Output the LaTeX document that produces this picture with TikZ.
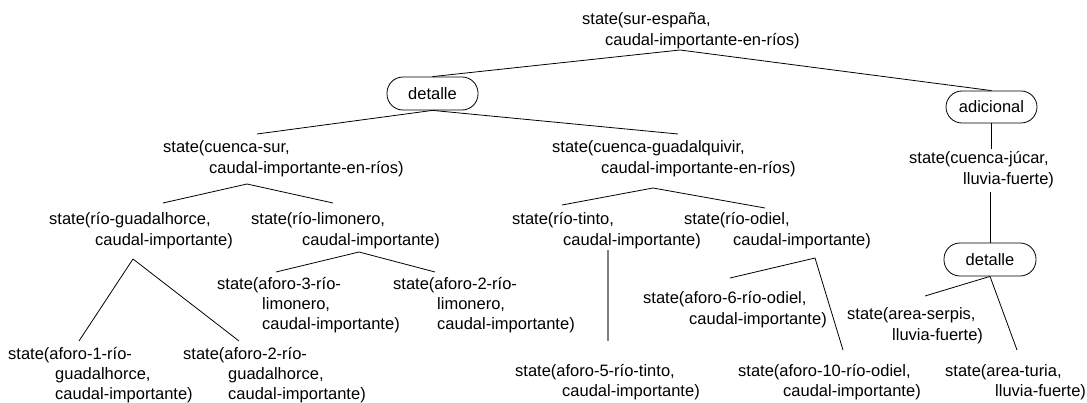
\documentclass[tikz,border=0pt]{standalone}
\usepackage{fontspec}
\setmainfont{Liberation Sans}
\newcommand\statefont{\fontsize{16.5}{21}\selectfont}
\newcommand\ind[1]{\hspace*{#1pt}}
\begin{document}
\begin{tikzpicture}[x=1pt,y=-1pt,
  st/.style={anchor=north west, inner sep=0pt, align=left, font=\statefont},
  opbox/.style={draw=black, line width=0.8pt, rounded corners=16pt, minimum width=91pt, minimum height=33pt, inner sep=0pt, font=\statefont},
  edge/.style={draw=black, line width=0.8pt},
  grayedge/.style={draw=black!50, line width=2pt}]
\useasboundingbox (0,0) rectangle (1087,403);
% state nodes
\node[st] (rt) at (582,12) {state(sur-españa,\\\ind{23}caudal-importante-en-ríos)};
\node[st] (cs) at (163,140) {state(cuenca-sur,\\\ind{46}caudal-importante-en-ríos)};
\node[st] (cg) at (552,140) {state(cuenca-guadalquivir,\\\ind{49}caudal-importante-en-ríos)};
\node[st] (cj) at (909,151) {state(cuenca-júcar,\\\ind{54}lluvia-fuerte)};
\node[st] (rg) at (49,212) {state(río-guadalhorce,\\\ind{46}caudal-importante)};
\node[st] (rl) at (251,212) {state(río-limonero,\\\ind{51}caudal-importante)};
\node[st] (rti) at (512,212) {state(río-tinto,\\\ind{51}caudal-importante)};
\node[st] (ro) at (684,212) {state(río-odiel,\\\ind{49}caudal-importante)};
\node[st,font=\fontsize{16.5}{20}\selectfont] (a3) at (217,277) {state(aforo-3-río-\\\ind{45}limonero,\\\ind{45}caudal-importante)};
\node[st,font=\fontsize{16.5}{20}\selectfont] (a2l) at (393,277) {state(aforo-2-río-\\\ind{44}limonero,\\\ind{44}caudal-importante)};
\node[st,font=\fontsize{16.5}{20}\selectfont] (a1g) at (8,347) {state(aforo-1-río-\\\ind{47}guadalhorce,\\\ind{47}caudal-importante)};
\node[st,font=\fontsize{16.5}{20}\selectfont] (a2g) at (183,347) {state(aforo-2-río-\\\ind{45}guadalhorce,\\\ind{45}caudal-importante)};
\node[st,font=\fontsize{16.5}{20}\selectfont] (a5) at (515,364) {state(aforo-5-río-tinto,\\\ind{47}caudal-importante)};
\node[st] (a6) at (643,291) {state(aforo-6-río-odiel,\\\ind{46}caudal-importante)};
\node[st,font=\fontsize{16.5}{20}\selectfont] (a10) at (738,364) {state(aforo-10-río-odiel,\\\ind{45}caudal-importante)};
\node[st] (serp) at (847,307) {state(area-serpis,\\\ind{45}lluvia-fuerte)};
\node[st,font=\fontsize{16.5}{20}\selectfont] (tur) at (945,364) {state(area-turia,\\\ind{50}lluvia-fuerte)};
% operator boxes
\node[opbox] (det1) at (432.5,93.5) {detalle};
\node[opbox,minimum height=32pt] (adic) at (991.5,107) {adicional};
\node[opbox,minimum width=92pt] (det2) at (990,259.5) {detalle};
% attachment points
\coordinate (rt-out) at (680,50);
\coordinate (cs-in) at (257,134);  \coordinate (cs-out) at (247,184);
\coordinate (cg-in) at (678,134);  \coordinate (cg-out) at (653,188);
\coordinate (cj-in) at (991.5,149); \coordinate (cj-out) at (990,192);
\coordinate (rg-in) at (163,203);  \coordinate (rg-out) at (133,259);
\coordinate (rl-in) at (333,203);  \coordinate (rl-out) at (359,252);
\coordinate (rti-in) at (562,205); \coordinate (rti-out) at (608,250);
\coordinate (ro-in) at (765,208);  \coordinate (ro-out) at (815,258);
\coordinate (a3-in) at (276,272);
\coordinate (a2l-in) at (435,272);
\coordinate (a1g-in) at (79,341);
\coordinate (a2g-in) at (239,341);
\coordinate (a5-in) at (608,341);
\coordinate (a6-in) at (730,278);
\coordinate (a10-in) at (843,350);
\coordinate (serp-in) at (925,296);
\coordinate (tur-in) at (1017,350);
% connectors
\draw[edge] (rt-out) -- (det1.north);
\draw[edge] (rt-out) -- (adic.north);
\draw[edge] (det1.south) -- (cs-in);
\draw[edge] (det1.south) -- (cg-in);
\draw[edge] (adic.south) -- (cj-in);
\draw[edge] (cj-out) -- (det2.north);
\draw[edge] (cs-out) -- (rg-in);
\draw[edge] (cs-out) -- (rl-in);
\draw[edge] (cg-out) -- (rti-in);
\draw[edge] (cg-out) -- (ro-in);
\draw[edge] (rg-out) -- (a1g-in);
\draw[edge] (rg-out) -- (a2g-in);
\draw[edge] (rl-out) -- (a3-in);
\draw[edge] (rl-out) -- (a2l-in);
\draw[grayedge] (rti-out) -- (a5-in);
\draw[edge] (ro-out) -- (a6-in);
\draw[edge] (ro-out) -- (a10-in);
\draw[edge] (det2.south) -- (serp-in);
\draw[edge] (det2.south) -- (tur-in);
\end{tikzpicture}
\end{document}
